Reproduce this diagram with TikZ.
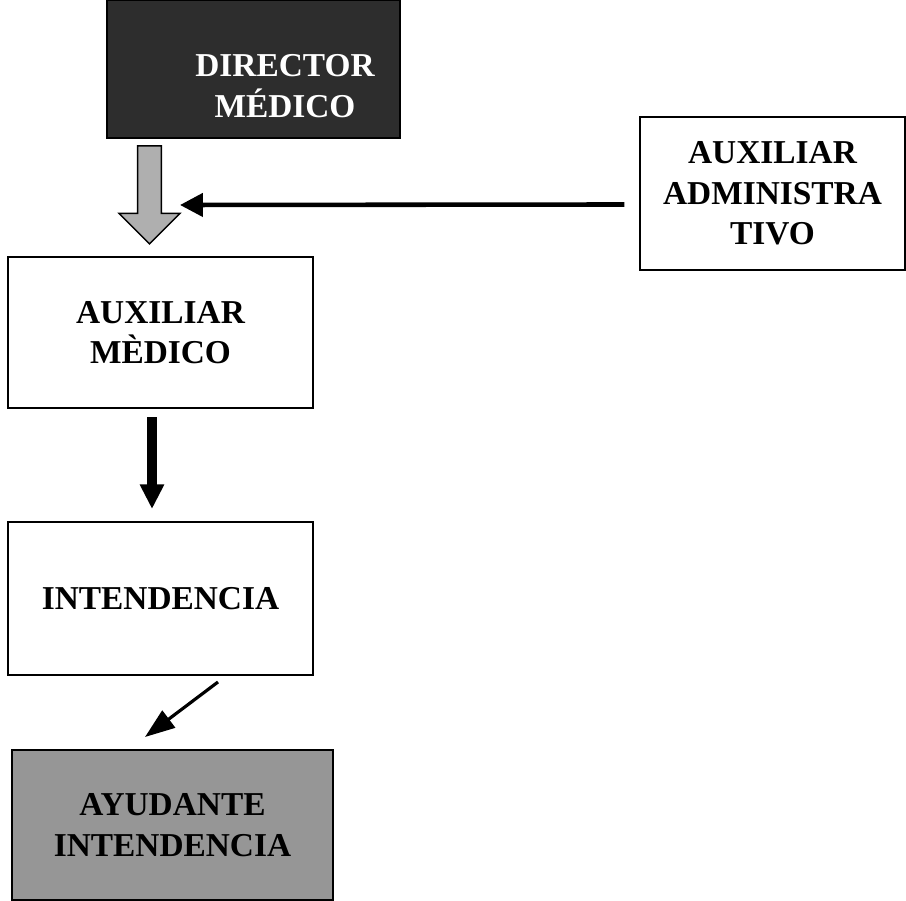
\documentclass[tikz,border=0pt]{standalone}
\usepackage{fontspec}
\setmainfont{Liberation Serif}
\usetikzlibrary{positioning,arrows.meta,shapes.arrows}
\definecolor{dirc}{RGB}{45,45,45}
\definecolor{ayuc}{RGB}{150,150,150}
\definecolor{fatc}{RGB}{175,175,175}
\tikzset{
  box/.style={draw=black, line width=0.8pt, align=center, inner sep=2pt, font=\fontsize{19}{23}\selectfont\bfseries},
  plain/.style={box, fill=white},
  dark/.style={box, fill=dirc, text=white},
  grey/.style={box, fill=ayuc},
  fat/.style={draw=black, line width=0.8pt, fill=fatc, single arrow, shape border rotate=270, inner sep=0.165cm,
    minimum height=1.96cm, minimum width=1.22cm, single arrow head extend=0.28cm, single arrow tip angle=90},
  flow/.style={-{Triangle[length=13pt,width=13pt]}, line width=2.6pt, black},
  flowdown/.style={-{Triangle[length=14pt,width=13pt]}, line width=5.5pt, black},
  flowdiag/.style={-{Triangle[length=17pt,width=12pt]}, line width=1.8pt, black}
}
\begin{document}
\begin{tikzpicture}[x=0.02cm, y=-0.02cm]
  \useasboundingbox (0,0) rectangle (906,901);

  % ---- boxes ----
  \node[dark, minimum width=5.86cm, minimum height=2.76cm] (director) at (253.5,69) {};
  \node[font=\fontsize{19}{23}\selectfont\bfseries, text=white, align=center] (directortxt) at (285,86) {DIRECTOR\\MÉDICO};
  \node[plain, minimum width=5.3cm, minimum height=3.06cm] (adm) at (772.5,193.5) {AUXILIAR\\ADMINISTRA\\TIVO};
  \node[plain, minimum width=6.1cm, minimum height=3.02cm] (auxmed) at (160.5,332.5) {AUXILIAR\\MÈDICO};
  \node[plain, minimum width=6.1cm, minimum height=3.06cm] (intend) at (160.5,598.5) {INTENDENCIA};
  \node[grey, minimum width=6.42cm, minimum height=3cm] (ayud) at (172.5,825) {AYUDANTE\\INTENDENCIA};

  % ---- fat arrow ----
  \node[fat] (flecha) at (149.5,189) {};

  % free ends
  \coordinate (punta) at (180,205);
  \coordinate (diagA) at (218,682);
  \coordinate (diagB) at (145,737);

  % flows
  \draw[flow] ([yshift=-0.22cm]adm.west) ++(-0.3cm,0) -- (punta);
  \draw[flowdown, shorten <=5pt, shorten >=7pt] ([xshift=-0.17cm]auxmed.south) -- ([xshift=-0.17cm]intend.north);
  \draw[flowdiag] (diagA) -- (diagB);
\end{tikzpicture}
\end{document}
